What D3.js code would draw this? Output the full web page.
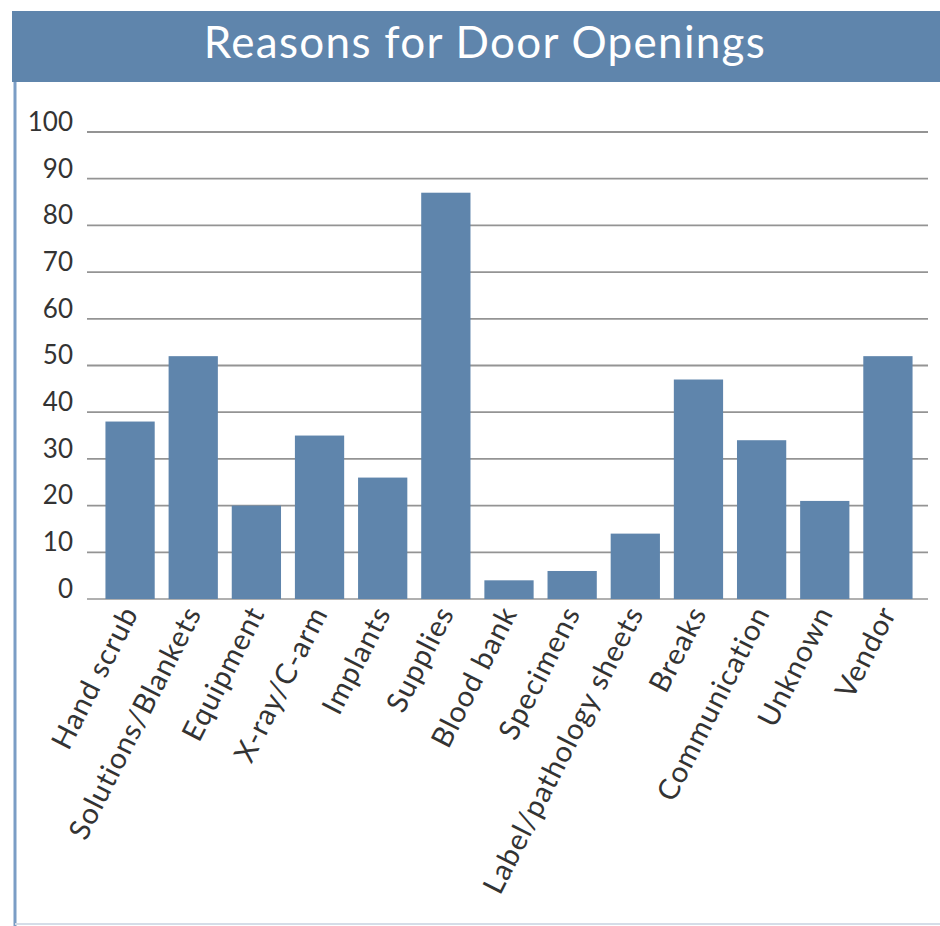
<!DOCTYPE html>
<html>
<head>
<meta charset="utf-8">
<script src="https://cdn.jsdelivr.net/npm/d3@7/dist/d3.min.js"></script>
<style>
  html, body { margin: 0; padding: 0; background: #ffffff; }
  svg { display: block; }
</style>
</head>
<body>
<script>
// Reasons for door openings (count per reason)
const categories = [
  "Hand scrub", "Solutions/Blankets", "Equipment", "X-ray/C-arm", "Implants",
  "Supplies", "Blood bank", "Specimens", "Label/pathology sheets", "Breaks",
  "Communication", "Unknown", "Vendor"
];
const counts = [38, 52, 20, 35, 26, 87, 4, 6, 14, 47, 34, 21, 52];
const yTicks = [0, 10, 20, 30, 40, 50, 60, 70, 80, 90, 100];
const title = "Reasons for Door Openings";

const W = 940, H = 926;
const blue = "#5f85ac";
const font = "Lato, 'Open Sans', sans-serif";

const svg = d3.select("body").append("svg")
  .attr("width", W).attr("height", H);

// frame: left rule and bottom rule
svg.append("line").attr("x1", 15).attr("x2", 15).attr("y1", 82).attr("y2", H)
  .attr("stroke", "#7b9dc5").attr("stroke-width", 3);
svg.append("line").attr("x1", 15).attr("x2", W).attr("y1", 924).attr("y2", 924)
  .attr("stroke", "#d5dde8").attr("stroke-width", 2);

// title banner
svg.append("rect").attr("x", 12).attr("y", 11).attr("width", W - 12).attr("height", 71)
  .attr("fill", blue);
svg.append("text").attr("x", 485).attr("y", 58)
  .attr("text-anchor", "middle")
  .attr("fill", "#ffffff")
  .style("font-family", font)
  .style("font-size", "44px")
  .style("letter-spacing", "1.3px")
  .text(title);

const y = d3.scaleLinear().domain([0, 100]).range([599, 132]);
const x = d3.scaleBand().domain(categories).range([86.5, 931.5])
  .paddingInner(0.22).paddingOuter(0.3);

// gridlines
svg.append("g").selectAll("line").data(yTicks).join("line")
  .attr("x1", 87).attr("x2", 928)
  .attr("y1", d => y(d)).attr("y2", d => y(d))
  .attr("stroke", d => d === 0 ? "#b0b0b0" : "#949494")
  .attr("stroke-width", 1.8);

// y axis labels
const yAxis = d3.axisLeft(y).tickValues(yTicks).tickSize(0).tickPadding(0);
const yg = svg.append("g").attr("transform", "translate(73,-10)").call(yAxis);
yg.select(".domain").remove();
yg.selectAll("text")
  .attr("fill", "#333333")
  .style("font-family", font)
  .style("font-size", "26px");

// bars
svg.append("g").selectAll("rect").data(categories).join("rect")
  .attr("x", d => x(d))
  .attr("width", x.bandwidth())
  .attr("y", (d, i) => y(counts[i]))
  .attr("height", (d, i) => y(0) - y(counts[i]))
  .attr("fill", blue);

// category labels
const xAxis = d3.axisBottom(x).tickSize(0).tickPadding(0);
const xg = svg.append("g").attr("transform", "translate(0,599)").call(xAxis);
xg.select(".domain").remove();
xg.selectAll("text")
  .attr("fill", "#333333")
  .style("font-family", font)
  .style("font-size", "29px")
  .style("letter-spacing", "1px")
  .attr("text-anchor", "end")
  .attr("dy", "0")
  .attr("transform", "translate(9,14) rotate(-63)");
</script>
</body>
</html>
